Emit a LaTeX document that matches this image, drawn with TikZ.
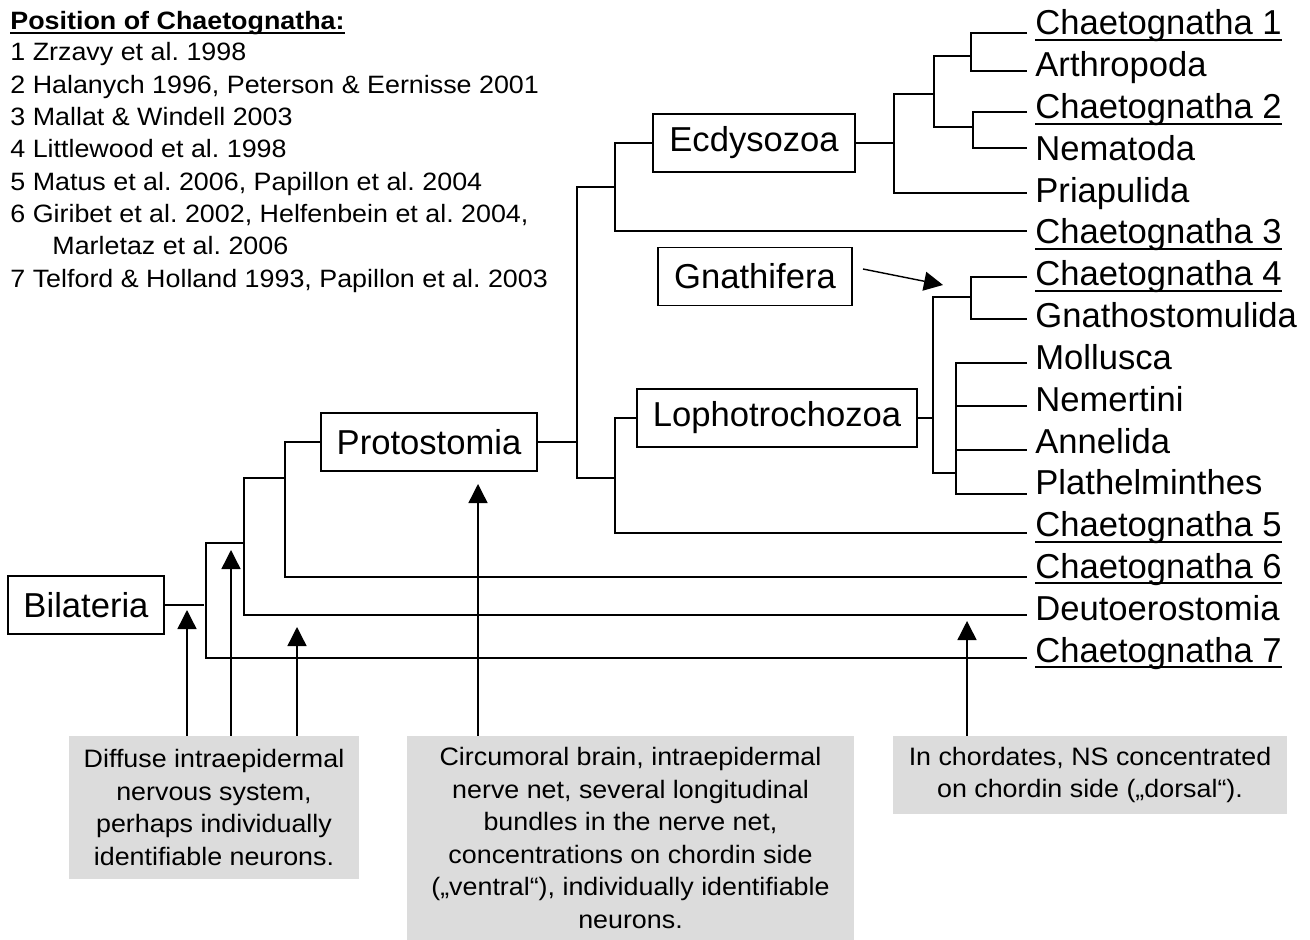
\documentclass[tikz,border=0pt]{standalone}
\usepackage{fontspec}
\setmainfont{Liberation Sans}
\newfontfamily\legfont[FakeStretch=1.07]{Liberation Sans}
\newfontfamily\notefont[FakeStretch=1.065]{Liberation Sans}
\usetikzlibrary{arrows.meta}
\definecolor{boxgray}{HTML}{DCDCDC}
\frenchspacing
\newcommand\myBig{\fontsize{17.3}{20}\selectfont}
\newcommand\myNote{\notefont\fontsize{12.6}{16.25}\selectfont}
\newcommand\myLeg{\legfont\fontsize{12.55}{16.15}\selectfont}
\tikzset{
  tree/.style={line width=1.45pt},
  tbox/.style={draw, line width=0.95pt, font=\myBig, minimum height=29pt, inner sep=0pt},
  leaf/.style={anchor=base west, inner xsep=4pt, inner ysep=0pt, font=\myBig},
  legline/.style={anchor=base west, inner sep=0pt, font=\myLeg},
  ul/.style={line width=1pt},
  arr/.style={line width=0.7pt, -{Triangle[length=9.5pt,width=9.5pt]}},
  note/.style={fill=boxgray, font=\myNote, align=center, inner sep=0pt},
}
\begin{document}
\begin{tikzpicture}[x=0.5pt,y=-0.5pt]
\useasboundingbox (0,0) rectangle (1310,940);

% legend
\node[legline, font=\myLeg\bfseries] (title) at (10,30) {Position of Chaetognatha:};
\draw[line width=1pt] ([yshift=-1.6pt]title.base west) -- ([yshift=-1.6pt]title.base east);
\node[legline] (leg1) at (10,61) {1 Zrzavy et al. 1998};
\node[legline] (leg2) at (10,93.3) {2 Halanych 1996, Peterson \& Eernisse 2001};
\node[legline] (leg3) at (10,125.6) {3 Mallat \& Windell 2003};
\node[legline] (leg4) at (10,157.9) {4 Littlewood et al. 1998};
\node[legline] (leg5) at (10,190.2) {5 Matus et al. 2006, Papillon et al. 2004};
\node[legline] (leg6) at (10,222.5) {6 Giribet et al. 2002, Helfenbein et al. 2004,};
\node[legline] (leg6b) at (52,254.8) {Marletaz et al. 2006};
\node[legline] (leg7) at (10,287.1) {7 Telford \& Holland 1993, Papillon et al. 2003};

% boxes
\node[tbox, minimum width=78pt] (Bil) at (86,605) {Bilateria};
\node[tbox, minimum width=108pt] (Pro) at (429,442) {Protostomia};
\node[tbox, minimum width=101pt] (Ecd) at (754,143) {Ecdysozoa};
\node[tbox, minimum width=97pt] (Gna) at (755,276.5) {Gnathifera};
\node[tbox, minimum width=140pt] (Lop) at (777,418) {Lophotrochozoa};

% leaves
\node[leaf] (l0) at (1027,35) {Chaetognatha 1};
\node[leaf] (l1) at (1027,76.8) {Arthropoda};
\node[leaf] (l2) at (1027,118.6) {Chaetognatha 2};
\node[leaf] (l3) at (1027,160.4) {Nematoda};
\node[leaf] (l4) at (1027,202.2) {Priapulida};
\node[leaf] (l5) at (1027,244) {Chaetognatha 3};
\node[leaf] (l6) at (1027,285.8) {Chaetognatha 4};
\node[leaf] (l7) at (1027,327.6) {Gnathostomulida};
\node[leaf] (l8) at (1027,369.4) {Mollusca};
\node[leaf] (l9) at (1027,411.2) {Nemertini};
\node[leaf] (l10) at (1027,453) {Annelida};
\node[leaf] (l11) at (1027,494.8) {Plathelminthes};
\node[leaf] (l12) at (1027,536.6) {Chaetognatha 5};
\node[leaf] (l13) at (1027,578.4) {Chaetognatha 6};
\node[leaf] (l14) at (1027,620.2) {Deutoerostomia};
\node[leaf] (l15) at (1027,662) {Chaetognatha 7};
\foreach \n in {l0,l2,l5,l6,l12,l13,l15}
  \draw[ul] ([xshift=4pt,yshift=-2.5pt]\n.base west) -- ([xshift=-4pt,yshift=-2.5pt]\n.base east);

% tree
\draw[tree] (Bil.east) -- (204,605);
\draw[tree] (244,543) -- (206,543) -- (206,658) -- (l15.west |- 0,658);
\draw[tree] (285,478) -- (244,478) -- (244,615) -- (l14.west |- 0,615);
\draw[tree] (Pro.west) -- (285,442) -- (285,577) -- (l13.west |- 0,577);
\draw[tree] (Pro.east) -- (577,442);
\draw[tree] (615,187) -- (577,187) -- (577,478) -- (615,478);
\draw[tree] (Ecd.west) -- (615,143) -- (615,231) -- (l5.west |- 0,231);
\draw[tree] (Ecd.east) -- (894,143);
\draw[tree] (934,94) -- (894,94) -- (894,193) -- (l4.west |- 0,193);
\draw[tree] (971,56) -- (934,56) -- (934,127) -- (973,127);
\draw[tree] (l0.west |- 0,33) -- (971,33) -- (971,71) -- (l1.west |- 0,71);
\draw[tree] (l2.west |- 0,112) -- (973,112) -- (973,148) -- (l3.west |- 0,148);
\draw[tree] (Lop.west) -- (615,418) -- (615,533) -- (l12.west |- 0,533);
\draw[tree] (Lop.east) -- (933,418);
\draw[tree] (971,297) -- (933,297) -- (933,473) -- (956,473);
\draw[tree] (l6.west |- 0,277) -- (971,277) -- (971,319) -- (l7.west |- 0,319);
\draw[tree] (l8.west |- 0,363) -- (956,363) -- (956,494) -- (l11.west |- 0,494);
\draw[tree] (956,406) -- (l9.west |- 0,406);
\draw[tree] (956,450) -- (l10.west |- 0,450);

% Gnathifera arrow
\coordinate (gtip) at (943,285);
\draw[arr] ([xshift=5pt,yshift=3.75pt]Gna.east) -- (gtip);

% note boxes
\node[note, minimum width=145pt, minimum height=71.5pt] (N1) at (214,807.5)
  {Diffuse intraepidermal\\nervous system,\\perhaps individually\\identifiable neurons.};
\node[note, minimum width=223.5pt, minimum height=102pt] (N2) at (630.5,838)
  {Circumoral brain, intraepidermal\\nerve net, several longitudinal\\bundles in the nerve net,\\concentrations on chordin side\\(„ventral“), individually identifiable\\neurons.};
\node[note, minimum width=197pt, minimum height=39pt] (N3) at (1090,775)
  {In chordates, NS concentrated\\on chordin side („dorsal“).};

% arrows
\coordinate (a1) at (187,610);
\coordinate (a2) at (231,550);
\coordinate (a3) at (297,627);
\coordinate (a4) at (478,484);
\coordinate (a5) at (967,621);
\draw[arr] (a1 |- N1.north) -- (a1);
\draw[arr] (a2 |- N1.north) -- (a2);
\draw[arr] (a3 |- N1.north) -- (a3);
\draw[arr] (a4 |- N2.north) -- (a4);
\draw[arr] (a5 |- N3.north) -- (a5);
\end{tikzpicture}
\end{document}
